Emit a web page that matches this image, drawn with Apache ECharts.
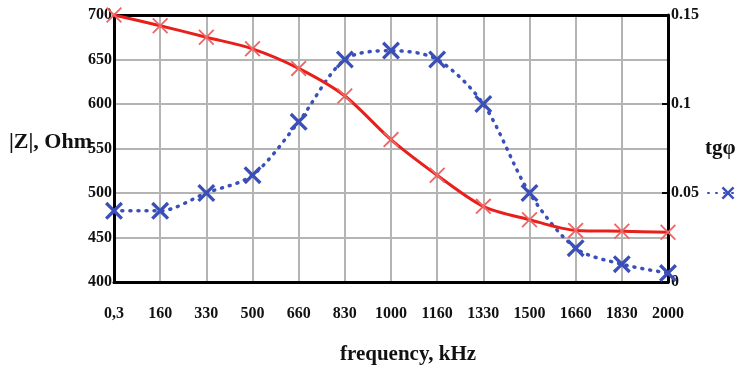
<!DOCTYPE html>
<html>
<head>
<meta charset="utf-8">
<script src="https://cdn.jsdelivr.net/npm/echarts@6/dist/echarts.min.js"></script>
<style>
  html, body { margin: 0; padding: 0; background: #fff; }
  #chart { width: 738px; height: 365px; }
</style>
</head>
<body>
<div id="chart"></div>
<script>
// frequency, kHz
const freqs = ['0,3', '160', '330', '500', '660', '830', '1000', '1160', '1330', '1500', '1660', '1830', '2000']
// |Z|, Ohm
const zValues = [700, 688, 675, 662, 640, 609, 560, 520, 485, 470, 458, 457, 456]
// tg phi
const tgValues = [0.040, 0.040, 0.050, 0.060, 0.090, 0.125, 0.130, 0.125, 0.100, 0.050, 0.019, 0.010, 0.005]

// thin and thick "x" markers
const crossThin = 'path://M0,0.8L0.8,0L5,4.2L9.2,0L10,0.8L5.8,5L10,9.2L9.2,10L5,5.8L0.8,10L0,9.2L4.2,5Z'
const crossThick = 'path://M0,1.3L1.3,0L5,3.7L8.7,0L10,1.3L6.3,5L10,8.7L8.7,10L5,6.3L1.3,10L0,8.7L3.7,5Z'

const labelFont = {
  fontFamily: 'Liberation Serif',
  fontWeight: 'bold',
  fontSize: 16,
  color: '#111'
}
const nameFont = {
  fontFamily: 'Liberation Serif',
  fontWeight: 'bold',
  fontSize: 21,
  color: '#111'
}
const frame = { show: true, lineStyle: { color: '#000', width: 3 } }
const gridLine = { show: true, lineStyle: { color: '#b4b4b4', width: 2 } }

const chart = echarts.init(document.getElementById('chart'))

const option = {
  backgroundColor: '#fff',
  animation: false,
  grid: {
    left: 114,
    right: 70,
    top: 15,
    bottom: 83,
    outerBoundsMode: 'none'
  },
  legend: {
    data: ['tgφ'],
    left: 702,
    top: 180,
    itemWidth: 40,
    itemHeight: 16,
    formatter: () => '',
    selectedMode: false
  },
  xAxis: [
    {
      type: 'category',
      data: freqs,
      boundaryGap: false,
      name: 'frequency, kHz',
      nameLocation: 'middle',
      nameGap: 62,
      nameMoveOverlap: false,
      nameTextStyle: Object.assign({}, nameFont, { padding: [0, 0, 0, 34] }),
      axisLine: frame,
      axisTick: { show: false },
      axisLabel: Object.assign({}, labelFont, { interval: 0, margin: 24 }),
      splitLine: Object.assign({ interval: 0 }, gridLine)
    },
    {
      type: 'category',
      data: freqs,
      boundaryGap: false,
      position: 'top',
      axisLine: frame,
      axisTick: { show: false },
      axisLabel: { show: false },
      splitLine: { show: false }
    }
  ],
  yAxis: [
    {
      type: 'value',
      min: 400,
      max: 700,
      interval: 50,
      name: '|Z|, Ohm',
      nameLocation: 'middle',
      nameRotate: 0,
      nameGap: 22,
      nameMoveOverlap: false,
      nameTextStyle: Object.assign({}, nameFont, { fontSize: 22, lineHeight: 12, align: 'right', verticalAlign: 'bottom' }),
      axisLine: frame,
      axisTick: { show: false },
      axisLabel: Object.assign({}, labelFont, { margin: 2 }),
      splitLine: gridLine
    },
    {
      type: 'value',
      min: 0,
      max: 0.15,
      interval: 0.05,
      name: 'tgφ',
      nameLocation: 'middle',
      nameRotate: 0,
      nameGap: 37,
      nameMoveOverlap: false,
      nameTextStyle: Object.assign({}, nameFont, { align: 'left' }),
      axisLine: frame,
      axisTick: { show: true, inside: true, length: 6, lineStyle: { color: '#000', width: 2 } },
      axisLabel: Object.assign({}, labelFont, { margin: 3 }),
      splitLine: { show: false }
    }
  ],
  series: [
    {
      name: '|Z|',
      type: 'line',
      yAxisIndex: 0,
      data: zValues,
      smooth: 0.3,
      symbol: crossThin,
      symbolSize: 16,
      itemStyle: { color: '#f06464' },
      lineStyle: { color: '#e8201c', width: 3 },
      z: 3
    },
    {
      name: 'tgφ',
      type: 'line',
      yAxisIndex: 1,
      data: tgValues,
      smooth: 0.3,
      symbol: crossThick,
      symbolSize: 18,
      itemStyle: { color: '#3a4fb8' },
      lineStyle: { color: '#3a4fb8', width: 3.5, type: [1, 7], cap: 'round' },
      z: 2
    }
  ]
}

chart.setOption(option)
</script>
</body>
</html>
